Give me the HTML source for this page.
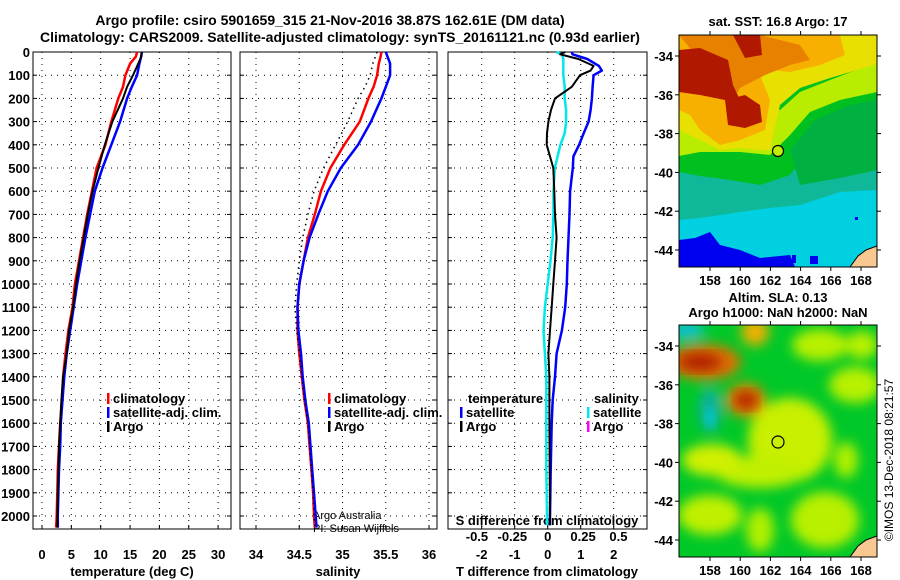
<!DOCTYPE html>
<html><head><meta charset="utf-8"><style>
html,body{margin:0;padding:0;background:#fff}
svg{display:block;font-family:"Liberation Sans",Arial,sans-serif}
.b{font-weight:bold;font-size:13px}
</style></head><body>
<svg id="fig" width="900" height="580" viewBox="0 0 900 580" xmlns="http://www.w3.org/2000/svg">
<defs>
<filter id="blur" x="-20%" y="-20%" width="140%" height="140%"><feGaussianBlur stdDeviation="6"/></filter>
<clipPath id="c1"><rect x="679" y="35" width="198" height="232"/></clipPath>
<clipPath id="c2"><rect x="679" y="325" width="198" height="232"/></clipPath>
</defs>
<text x="330" y="25" text-anchor="middle" class="b" style="font-size:14px">Argo profile: csiro 5901659_315 21-Nov-2016 38.87S 162.61E (DM data)</text>
<text x="340" y="42" text-anchor="middle" class="b" style="font-size:14px">Climatology: CARS2009. Satellite-adjusted climatology: synTS_20161121.nc (0.93d earlier)</text>

<!-- SST map -->
<g clip-path="url(#c1)">
<rect x="679" y="35" width="198" height="232" fill="#00d0e0"/>
<rect x="679" y="35" width="198" height="150" fill="#00c020"/>
<polygon fill="#10b89a" points="679,170 720,178 760,178 800,160 840,110 877,100 877,190 840,192 800,205 770,208 740,212 700,218 679,220"/>
<polygon fill="#00c020" points="679,152 700,150 730,148 760,150 790,140 810,115 840,100 877,92 877,112 840,125 810,150 790,175 760,185 730,180 700,176 679,172"/>
<polygon fill="#00b040" points="790,150 815,120 850,105 877,100 877,170 840,178 800,185"/>
<polygon fill="#b8ec00" points="679,100 720,100 760,105 780,110 800,92 830,80 877,62 877,92 840,100 810,112 790,135 770,155 740,152 700,152 679,156"/>
<polygon fill="#e8e000" points="679,35 877,35 877,64 830,78 800,88 780,105 770,150 760,150 740,148 720,150 700,140 679,130"/>
<polygon fill="#f8b000" points="679,35 840,35 845,55 820,65 790,72 770,70 760,75 770,100 765,130 740,140 720,145 700,130 690,115 679,110"/>
<polygon fill="#e88000" points="679,35 760,35 800,45 810,60 790,65 765,75 740,88 733,100"/>
<polygon fill="#b01800" points="679,50 700,48 728,60 733,85 740,100 725,100 700,95 679,92"/>
<polygon fill="#b01800" points="733,35 760,35 762,55 745,58"/>
<polygon fill="#b01800" points="725,100 745,95 760,105 762,122 745,128 728,125"/>
<polygon fill="#0000f0" points="679,240 695,238 710,232 720,245 740,250 760,258 790,255 795,267 679,267"/>
<rect x="792" y="255" width="4" height="8" fill="#0000f0"/>
<rect x="810" y="256" width="8" height="8" fill="#0000f0"/>
<rect x="855" y="217" width="3" height="3" fill="#0000f0"/>
<polygon fill="#f8c890" stroke="#000" stroke-width="1" points="877,246 866,250 858,256 850,267 877,267"/>
<circle cx="778" cy="151" r="5.5" fill="#c0f000" stroke="#000" stroke-width="1.2"/>
</g>
<rect x="679" y="35" width="198" height="232" fill="none" stroke="#000" stroke-width="1"/>
<text x="778" y="26" text-anchor="middle" class="b">sat. SST: 16.8 Argo: 17</text>

<!-- SLA map -->
<g clip-path="url(#c2)">
<rect x="679" y="325" width="198" height="232" fill="#00c828"/>
<g filter="url(#blur)">
<ellipse cx="790" cy="440" rx="42" ry="42" fill="#c8f000"/>
<ellipse cx="760" cy="472" rx="45" ry="16" fill="#c0f000"/>
<ellipse cx="712" cy="460" rx="30" ry="16" fill="#d0f000"/>
<ellipse cx="855" cy="385" rx="26" ry="18" fill="#b8f000"/>
<ellipse cx="820" cy="345" rx="28" ry="16" fill="#b8f000"/>
<ellipse cx="862" cy="345" rx="16" ry="14" fill="#b8f000"/>
<ellipse cx="710" cy="515" rx="32" ry="20" fill="#c0f000"/>
<ellipse cx="825" cy="520" rx="34" ry="28" fill="#b8f000"/>
<ellipse cx="760" cy="530" rx="14" ry="22" fill="#b0f000"/>
<ellipse cx="846" cy="460" rx="12" ry="18" fill="#b0f000"/>
<ellipse cx="755" cy="332" rx="14" ry="14" fill="#f0b000"/>
<ellipse cx="705" cy="362" rx="36" ry="18" fill="#e07000"/>
<ellipse cx="746" cy="400" rx="20" ry="17" fill="#e08000"/>
<ellipse cx="710" cy="410" rx="11" ry="22" fill="#10b0a0"/>
<ellipse cx="685" cy="330" rx="20" ry="9" fill="#10c0d0"/>
</g>
<ellipse cx="700" cy="362" rx="22" ry="9" fill="#b02000" filter="url(#blur)" />
<ellipse cx="746" cy="400" rx="11" ry="9" fill="#b02000" filter="url(#blur)"/>
<ellipse cx="710" cy="418" rx="5" ry="9" fill="#00d0e0" filter="url(#blur)"/>
<polygon fill="#f8c890" stroke="#000" stroke-width="1" points="877,536 866,540 858,546 850,557 877,557"/>
<circle cx="778" cy="442" r="6" fill="none" stroke="#000" stroke-width="1.2"/>
</g>
<rect x="679" y="325" width="198" height="232" fill="none" stroke="#000" stroke-width="1"/>
<text x="778" y="302" text-anchor="middle" class="b">Altim. SLA: 0.13</text>
<text x="778" y="317" text-anchor="middle" class="b">Argo h1000: NaN h2000: NaN</text>
<text transform="translate(893,460) rotate(-90)" text-anchor="middle" font-size="12">©IMOS 13-Dec-2018 08:21:57</text>
<g id="plots"></g>
</svg>
<script>
// ---- data ----
const depths = [0,20,50,100,150,200,300,400,500,600,700,800,900,1000,1100,1200,1300,1400,1500,1600,1700,1800,1900,2000,2050];
const tempClim = [16.2,16.0,15.0,14.2,13.8,13.0,11.8,10.8,9.3,8.5,7.7,7.0,6.3,5.6,5.2,4.5,4.0,3.6,3.4,3.1,2.9,2.7,2.6,2.5,2.4];
const tempSat  = [17.0,16.9,16.6,16.2,15.3,14.5,13.3,11.8,10.3,9.0,8.2,7.4,6.7,6.0,5.4,4.8,4.2,3.8,3.5,3.2,3.1,2.9,2.8,2.7,2.7];
const tempArgo = [17.0,16.9,16.4,15.5,14.5,13.8,12.0,10.7,9.6,8.6,7.8,7.1,6.4,5.8,5.3,4.6,4.2,3.6,3.3,3.1,2.9,2.8,2.7,2.6,2.6];
const salClim = [35.45,35.44,35.42,35.40,35.36,35.30,35.20,35.02,34.86,34.75,34.68,34.60,34.55,34.50,34.48,34.48,34.50,34.53,34.56,34.60,34.62,34.64,34.66,34.67,34.68];
const salSat  = [35.50,35.52,35.55,35.55,35.50,35.45,35.33,35.18,34.98,34.83,34.72,34.62,34.55,34.50,34.48,34.49,34.52,34.54,34.57,34.61,34.63,34.65,34.67,34.69,34.70];
const salArgo = [35.40,35.38,35.35,35.32,35.26,35.18,35.06,34.92,34.78,34.67,34.60,34.54,34.50,34.47,34.45,34.47,34.50,34.53,34.56,34.60,34.62,34.64,34.66,34.67,34.68];
const dDepths = [0,10,30,60,80,100,150,200,250,300,350,400,450,500,600,700,800,900,1000,1100,1200,1300,1400,1500,1600,1800,2000,2040];
const tDiffSat  = [0.73,0.75,1.2,1.55,1.64,1.39,1.36,1.34,1.3,1.24,1.09,0.95,0.78,0.76,0.68,0.66,0.63,0.6,0.58,0.53,0.43,0.27,0.22,0.15,0.12,0.09,0.07,0.07];
const tDiffArgo = [0.53,0.38,0.93,1.39,1.3,0.98,0.73,0.22,0.1,0.02,-0.02,-0.03,0.07,0.17,0.2,0.22,0.27,0.22,0.17,0.12,0.07,0.02,0.05,0.05,0.05,0.06,0.07,0.07];
const sDiffSat  = [0.06,0.1,0.11,0.11,0.11,0.11,0.12,0.12,0.13,0.13,0.12,0.09,0.07,0.05,0.04,0.04,0.035,0.02,0.0,-0.02,-0.03,-0.02,-0.01,-0.01,-0.01,-0.01,-0.005,-0.005];
const depthTicks = [0,100,200,300,400,500,600,700,800,900,1000,1100,1200,1300,1400,1500,1600,1700,1800,1900,2000];
const tempTicks = [0,5,10,15,20,25,30];
const salTicks = [34,34.5,35,35.5,36];
const salTickLabels = ["34","34.5","35","35.5","36"];
const tdTicks = [-2,-1,0,1,2];
const sdTicks = [-0.5,-0.25,0,0.25,0.5];
const sdTickLabels = ["-0.5","-0.25","0","0.25","0.5"];
const latTicks = [-34,-36,-38,-40,-42,-44];
const lonTicks = [158,160,162,164,166,168];

// ---- axes ----
const Y0=52, Y1=529;
const yD = d => 52 + d*0.232;
const xT = v => 42 + v*5.87;
const xS = v => 256 + (v-34)*86.5;
const xTD = v => 547.7 + v*33;
const xSD = v => 547.7 + v*141.5;
const mX = lon => 710 + (lon-158)*15.1;
const mY = lat => 56 + (-34-lat)*19.4;

const NS="http://www.w3.org/2000/svg";
const plots=document.getElementById('plots');
function mk(tag,attrs,parent){const e=document.createElementNS(NS,tag);for(const k in attrs)e.setAttribute(k,attrs[k]);(parent||plots).appendChild(e);return e;}
function txt(x,y,s,cls,anchor,parent){const t=mk('text',{x:x,y:y,'text-anchor':anchor||'middle'},parent);if(cls)t.setAttribute('class',cls);t.textContent=s;return t;}

const panels=[{x0:33,x1:231,name:'temperature-panel'},{x0:240,x1:437,name:'salinity-panel'},{x0:448,x1:647,name:'difference-panel'}];
panels.forEach((p,i)=>{
  const g=mk('g',{});
  
  
  depthTicks.forEach(d=>{ mk('line',{x1:p.x0,x2:p.x1,y1:yD(d),y2:yD(d),stroke:'#000','stroke-width':1,'stroke-dasharray':'1 5'},g);
    mk('line',{x1:p.x0,x2:p.x0+4,y1:yD(d),y2:yD(d),stroke:'#000'},g);
    mk('line',{x1:p.x1-4,x2:p.x1,y1:yD(d),y2:yD(d),stroke:'#000'},g);});
  let xs = i==0? tempTicks.map(xT) : i==1? salTicks.map(xS) : tdTicks.map(xTD);
  xs.forEach(x=>{ mk('line',{x1:x,x2:x,y1:Y0,y2:Y1,stroke:'#000','stroke-dasharray':'1 5'},g);
    mk('line',{x1:x,x2:x,y1:Y1-4,y2:Y1,stroke:'#000'},g);});
  mk('rect',{x:p.x0,y:Y0,width:p.x1-p.x0,height:Y1-Y0,fill:'none',stroke:'#000','stroke-width':1},g);
});
depthTicks.forEach(d=>{ const t=txt(30,yD(d)+5,String(d),'b','end');  });
tempTicks.forEach(v=>{ const t=txt(xT(v),559,String(v),'b');  });
salTicks.forEach((v,i)=>{ const t=txt(xS(v),559,salTickLabels[i],'b');  });
tdTicks.forEach(v=>{ const t=txt(xTD(v),559,String(v),'b');  });
sdTicks.forEach((v,i)=>{ const t=txt(xSD(v),541,sdTickLabels[i],'b');  });
let t;
t=txt(132,576,'temperature (deg C)','b');  
t=txt(338,576,'salinity','b');  
t=txt(547,576,'T difference from climatology','b');  
t=txt(547,525,'S difference from climatology','b');  
t=txt(313,519,'Argo Australia',null,'start'); t.setAttribute('font-size','11');  
t=txt(313,532,'PI: Susan Wijffels',null,'start'); t.setAttribute('font-size','11');  

function series(ds,vs,fx,color,w,name,dash){
  let pts=[];
  for(let i=0;i<ds.length;i++){ pts.push(fx(vs[i]).toFixed(1)+','+yD(ds[i]).toFixed(1));}
  const l=mk('polyline',{points:pts.join(' '),fill:'none',stroke:color,'stroke-width':w,'stroke-linejoin':'round'});
  if(dash) l.setAttribute('stroke-dasharray',dash);
  
  
}
series(depths,tempClim,xT,'#f00',2.5,'temp-climatology-line');
series(depths,tempSat,xT,'#00f',2.5,'temp-satellite-line');
series(depths,tempArgo,xT,'#000',2,'temp-argo-line');
series(depths,salClim,xS,'#f00',2.5,'sal-climatology-line');
series(depths,salSat,xS,'#00f',2.5,'sal-satellite-line');
series(depths,salArgo,xS,'#000',1.5,'sal-argo-line','1.5 4');
series(dDepths,sDiffSat,xSD,'#00e8e8',2.5,'sdiff-satellite-line');
series(dDepths,tDiffSat,xTD,'#00f',2.5,'tdiff-satellite-line');
series(dDepths,tDiffArgo,xTD,'#000',2,'tdiff-argo-line');

function legend(x,y,color,label,name){
  mk('rect',{x:x,y:y-10,width:2.5,height:11,fill:color});
  const t=txt(x+6,y,label,'b','start');
  
  
}
legend(107,403,'#f00','climatology','legend-climatology');
legend(107,417,'#00f','satellite-adj. clim.','legend-satellite-adj');
legend(107,431,'#000','Argo','legend-argo');
legend(328,403,'#f00','climatology','legend2-climatology');
legend(328,417,'#00f','satellite-adj. clim.','legend2-satellite-adj');
legend(328,431,'#000','Argo','legend2-argo');
t=txt(468,403,'temperature','b','start');  
legend(460,417,'#00f','satellite','legend-t-satellite');
legend(460,431,'#000','Argo','legend-t-argo');
t=txt(594,403,'salinity','b','start');  
legend(587,417,'#00e8e8','satellite','legend-s-satellite');
legend(587,431,'#f0f','Argo','legend-s-argo');

// map axes
[[35,267],[325,557]].forEach(([top,bot],k)=>{
  const off = top-35;
  latTicks.forEach(lat=>{ const y=mY(lat)+off;
    const tl=txt(673,y+5,String(lat),'b','end');  
    mk('line',{x1:877,x2:881,y1:y,y2:y,stroke:'#000'}); mk('line',{x1:679,x2:675,y1:y,y2:y,stroke:'#000'});});
  lonTicks.forEach(lon=>{ const x=mX(lon);
    const tl=txt(x,bot+18,String(lon),'b');  
    mk('line',{x1:x,x2:x,y1:top,y2:top-4,stroke:'#000'}); mk('line',{x1:x,x2:x,y1:bot,y2:bot+4,stroke:'#000'});});
});
</script>
</body></html>
